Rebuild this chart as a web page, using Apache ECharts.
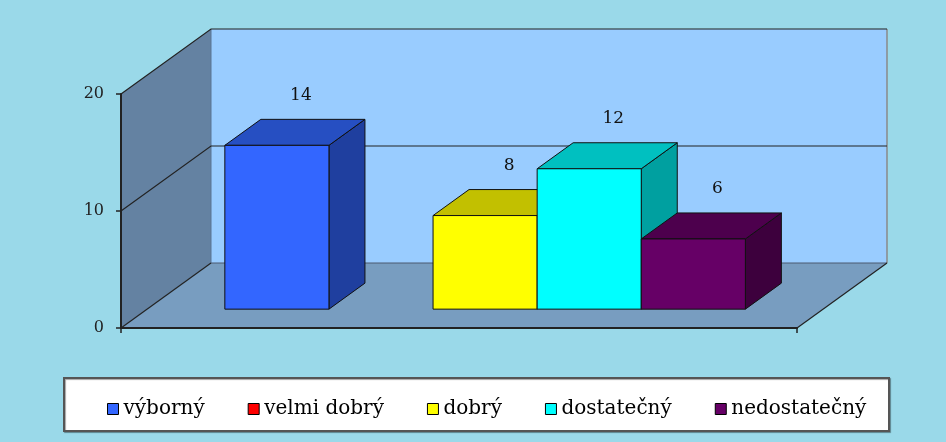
<!DOCTYPE html>
<html>
<head>
<meta charset="utf-8">
<script src="https://cdn.jsdelivr.net/npm/echarts@6/dist/echarts.min.js"></script>
<style>
  html, body { margin: 0; padding: 0; background: #9ad9e9; }
  #chart { width: 946px; height: 442px; }
</style>
</head>
<body>
<div id="chart"></div>
<script>
// data
const categories = ['výborný', 'velmi dobrý', 'dobrý', 'dostatečný', 'nedostatečný'];
const values = [14, 0, 8, 12, 6];
const yTicks = [0, 10, 20];

// styles
const frontColors = ['#3366ff', '#ff0000', '#ffff00', '#00ffff', '#660066'];
const topColors = ['#264fc2', '#c00000', '#c2c000', '#00c0c0', '#4d004d'];
const sideColors = ['#1f3f9f', '#a00000', '#a0a000', '#00a0a0', '#3d003d'];
const depth = [90, -65]; // oblique offset of the back wall
const barFront = 0.29; // bar front plane, fraction of depth
const barDepth = 0.4;
const barRatio = 0.154; // bar width / band width
const fontFamily = '"DejaVu Serif", "Liberation Serif", serif';

const chart = echarts.init(document.getElementById('chart'));

function renderWalls(params, api) {
  const base = api.coord([0, yTicks[0]]);
  const w = api.size([1, 0])[0];
  const x0 = base[0] - w / 2;
  const x1 = base[0] + w / 2;
  const y0 = base[1];
  const yTop = api.coord([0, yTicks[yTicks.length - 1]])[1];
  const dx = depth[0], dy = depth[1];
  const children = [
    {
      type: 'polygon',
      shape: { points: [[x0, y0], [x0, yTop], [x0 + dx, yTop + dy], [x0 + dx, y0 + dy]] },
      style: { fill: '#6482a2' },
    },
    {
      type: 'rect',
      shape: { x: x0 + dx, y: yTop + dy, width: x1 - x0, height: y0 - yTop },
      style: { fill: '#99ccff' },
    },
    {
      type: 'polygon',
      shape: { points: [[x0, y0], [x1, y0], [x1 + dx, y0 + dy], [x0 + dx, y0 + dy]] },
      style: { fill: '#789dc0' },
    },
    {
      type: 'line',
      shape: { x1: x0 + dx, y1: yTop + dy, x2: x0 + dx, y2: y0 + dy },
      style: { stroke: '#5b7594', lineWidth: 1 },
    },
    {
      type: 'line',
      shape: { x1: x1 + dx, y1: yTop + dy, x2: x1 + dx, y2: y0 + dy },
      style: { stroke: '#8a8a8a', lineWidth: 1.5 },
    },
    {
      type: 'line',
      shape: { x1: x0 + dx, y1: y0 + dy, x2: x1 + dx, y2: y0 + dy },
      style: { stroke: '#4a5a70', lineWidth: 1 },
    },
    {
      type: 'line',
      shape: { x1: x0, y1: y0, x2: x0 + dx, y2: y0 + dy },
      style: { stroke: '#222', lineWidth: 1.2 },
    },
    {
      type: 'line',
      shape: { x1: x1, y1: y0, x2: x1 + dx, y2: y0 + dy },
      style: { stroke: '#222', lineWidth: 1.2 },
    },
  ];
  yTicks.slice(1).forEach(t => {
    const yt = api.coord([0, t])[1];
    children.push({
      type: 'polyline',
      shape: { points: [[x0, yt], [x0 + dx, yt + dy], [x1 + dx, yt + dy]] },
      style: { stroke: '#222', lineWidth: 1.2, fill: null },
    });
  });
  return { type: 'group', children: children };
}

function barRenderer(i) {
  return function (params, api) {
    const value = api.value(1);
    if (!value) return null;
    const top = api.coord([0, value]);
    const base = api.coord([0, 0]);
    const w = api.size([1, 0])[0];
    const bw = w * barRatio;
    const fx = depth[0] * barFront, fy = depth[1] * barFront;
    const ddx = depth[0] * barDepth, ddy = depth[1] * barDepth;
    const L = top[0] - (bw * categories.length) / 2 + i * bw + fx;
    const R = L + bw;
    const yT = top[1] + fy;
    const yB = base[1] + fy;
    const edge = { stroke: '#111', lineWidth: 1, lineJoin: 'round' };
    return {
      type: 'group',
      children: [
        {
          type: 'polygon',
          shape: { points: [[R, yT], [R + ddx, yT + ddy], [R + ddx, yB + ddy], [R, yB]] },
          style: Object.assign({ fill: sideColors[i] }, edge),
        },
        {
          type: 'polygon',
          shape: { points: [[L, yT], [R, yT], [R + ddx, yT + ddy], [L + ddx, yT + ddy]] },
          style: Object.assign({ fill: topColors[i] }, edge),
        },
        {
          type: 'rect',
          shape: { x: L, y: yT, width: bw, height: yB - yT },
          style: Object.assign({ fill: frontColors[i] }, edge),
        },
        {
          type: 'text',
          z2: 50,
          style: {
            x: (L + R) / 2 + 24,
            y: yT + ddy - 24,
            text: String(value),
            fill: '#111',
            font: '17px ' + fontFamily,
            align: 'center',
            verticalAlign: 'middle',
          },
        },
      ],
    };
  };
}

const series = [
  {
    name: 'walls',
    type: 'custom',
    silent: true,
    renderItem: renderWalls,
    data: [[0, 0]],
    z: 1,
  },
].concat(
  categories.map((name, i) => ({
    name: name,
    type: 'custom',
    renderItem: barRenderer(i),
    itemStyle: { color: frontColors[i] },
    data: [[0, values[i]]],
    z: 3,
  }))
);

const option = {
  backgroundColor: '#9ad9e9',
  animation: false,
  graphic: [
    {
      type: 'rect',
      left: 63,
      top: 377,
      shape: { width: 825, height: 53 },
      style: { fill: '#fff', stroke: '#555', lineWidth: 2, shadowColor: 'rgba(0,0,0,0.35)', shadowOffsetX: 1, shadowOffsetY: 1, shadowBlur: 1 },
      z: 0,
    },
  ],
  grid: {
    left: 121,
    right: 149,
    top: 94,
    bottom: 114,
  },
  legend: {
    data: categories,
    left: 102,
    top: 394,
    icon: 'rect',
    itemWidth: 11,
    itemHeight: 11,
    itemGap: 43,
    itemStyle: { borderColor: '#000', borderWidth: 1 },
    textStyle: { fontFamily: fontFamily, fontSize: 20, color: '#000', lineHeight: 20 },
    z: 5,
  },
  xAxis: {
    type: 'category',
    data: [''],
    z: 10,
    axisLine: { lineStyle: { color: '#222', width: 2 } },
    axisTick: { show: true, length: 5, lineStyle: { color: '#222', width: 1.5 } },
    axisLabel: { show: false },
    splitLine: { show: false },
  },
  yAxis: {
    type: 'value',
    min: 0,
    max: 20,
    interval: 10,
    z: 10,
    axisLine: { show: true, lineStyle: { color: '#222', width: 2 } },
    axisTick: { show: true, length: 5, lineStyle: { color: '#222', width: 1.5 } },
    axisLabel: { margin: 17, fontFamily: fontFamily, fontSize: 16, color: '#222' },
    splitLine: { show: false },
  },
  series: series,
};

chart.setOption(option);
</script>
</body>
</html>
